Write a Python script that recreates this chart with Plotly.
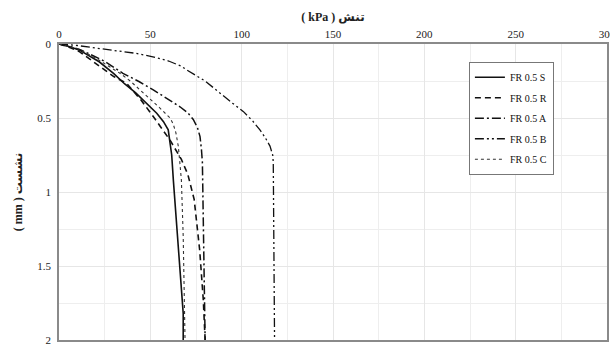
import plotly.graph_objects as go

# FR 0.5 S (solid)
s_x = [0, 5, 11, 22, 30, 36, 42, 48, 53.5, 57.2, 59.8, 60.8, 61.7, 62.6, 65, 67, 68, 68]
s_y = [0, 0.015, 0.04, 0.12, 0.2, 0.27, 0.33, 0.4, 0.468, 0.525, 0.58, 0.67, 0.75, 0.92, 1.3, 1.65, 1.82, 2.0]
# FR 0.5 R (dashed)
r_x = [0, 5, 11, 21, 30, 37, 45, 51.6, 56, 60.8, 67, 70.5, 74, 77, 79, 80]
r_y = [0, 0.02, 0.05, 0.14, 0.22, 0.266, 0.38, 0.49, 0.57, 0.65, 0.78, 0.88, 1.05, 1.39, 1.73, 2.0]
# FR 0.5 A (dash-dot)
a_x = [0, 5, 12, 25, 35, 44, 51.6, 59, 66.2, 70.5, 73.5, 75.8, 77.2, 78, 78.5, 79, 79.5, 80]
a_y = [0, 0.012, 0.04, 0.117, 0.198, 0.255, 0.31, 0.365, 0.424, 0.465, 0.51, 0.565, 0.626, 0.716, 0.8, 1.2, 1.6, 2.0]
# FR 0.5 B (dash-dot-dot)
b_x = [0, 10, 20, 33, 42, 52, 60, 67, 70, 80, 88, 95, 101, 106, 110, 113, 115.5, 117, 117.3, 117.5, 117.7, 118]
b_y = [0, 0.01, 0.027, 0.05, 0.063, 0.088, 0.115, 0.15, 0.176, 0.25, 0.333, 0.4, 0.457, 0.52, 0.58, 0.635, 0.69, 0.75, 0.8, 1.2, 1.6, 2.0]
# FR 0.5 C (dotted)
c_x = [0, 5, 11, 22, 33.4, 39, 48, 55, 60.8, 62.5, 64, 65.3, 66, 67, 68, 68.7, 69]
c_y = [0, 0.015, 0.035, 0.11, 0.198, 0.25, 0.35, 0.43, 0.5, 0.54, 0.6, 0.69, 0.78, 0.92, 1.3, 1.7, 2.0]

names = ["FR 0.5 S", "FR 0.5 R", "FR 0.5 A", "FR 0.5 B", "FR 0.5 C"]
x_ticks = [0, 50, 100, 150, 200, 250, 300]
y_ticks = [0, 0.5, 1, 1.5, 2]
y_tick_text = ["0", "0.5", "1", "1.5", "2"]

series = [(s_x, s_y), (r_x, r_y), (a_x, a_y), (b_x, b_y), (c_x, c_y)]
styles = [
    dict(color="#111111", width=1.6, dash="solid"),
    dict(color="#111111", width=1.6, dash="6px,4px"),
    dict(color="#111111", width=1.5, dash="9px,3px,2px,3px"),
    dict(color="#111111", width=1.3, dash="9px,3px,2px,3px,2px,3px"),
    dict(color="#333333", width=1.1, dash="dot"),
]

fig = go.Figure()
for i, ((xs, ys), nm, st) in enumerate(zip(series, names, styles)):
    fig.add_trace(go.Scatter(x=xs, y=ys, mode="lines", name=nm, line=st,
                             legendgroup=f"g{i}"))

serif = "Liberation Serif, DejaVu Sans, serif"
fig.update_layout(
    width=610, height=345,
    margin=dict(l=59, r=3, t=44, b=5),
    paper_bgcolor="white", plot_bgcolor="white",
    font=dict(family=serif, size=11, color="#222222"),
    showlegend=True,
    legend=dict(
        x=0.748, y=0.94, xanchor="left", yanchor="top",
        bordercolor="#777777", borderwidth=1, bgcolor="white",
        font=dict(family=serif, size=10, color="#111111"),
        itemwidth=30, tracegroupgap=1.5,
    ),
)
fig.update_xaxes(
    side="top", range=[0, 300], tickvals=x_ticks,
    showgrid=True, gridcolor="#e6e6e6", gridwidth=1,
    minor=dict(dtick=25, showgrid=True, gridcolor="#eeeeee", gridwidth=1),
    showline=True, linecolor="#8a8a8a", linewidth=1.5, mirror=True,
    zeroline=False, ticks="", automargin=False, ticklabeloverflow="allow",
    title=dict(text="<b>( kPa ) تنش</b>", font=dict(family=serif, size=12), standoff=4),
)
fig.update_yaxes(
    range=[2, 0], tickvals=y_ticks, ticktext=y_tick_text,
    showgrid=True, gridcolor="#e6e6e6", gridwidth=1,
    minor=dict(dtick=0.25, showgrid=True, gridcolor="#eeeeee", gridwidth=1),
    showline=True, linecolor="#8a8a8a", linewidth=1.5, mirror=True,
    zeroline=False, ticks="", automargin=False, ticklabeloverflow="allow",
    ticklabelstandoff=4,
    title=dict(text="<b>( mm ) نشست</b>", font=dict(family=serif, size=12), standoff=12),
)
fig.write_html("out.html")
